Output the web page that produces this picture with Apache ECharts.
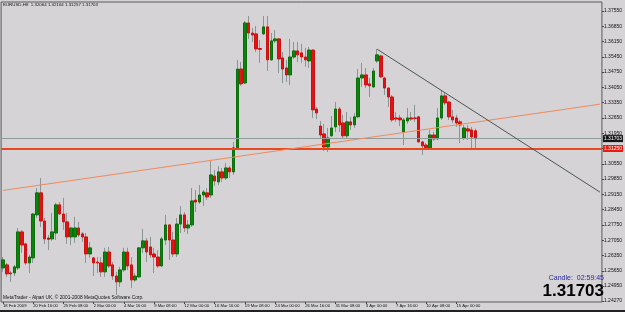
<!DOCTYPE html>
<html>
<head>
<meta charset="utf-8">
<script src="https://cdn.jsdelivr.net/npm/echarts@6/dist/echarts.min.js"></script>
<style>
  html, body { margin: 0; padding: 0; background: #d5d3d6; }
  #chart { width: 625px; height: 312px; }
</style>
</head>
<body>
<div id="chart"></div>
<script>
// EURUSD H8 bars, 18 Feb 2009 .. 16 Apr 2009
var openP = [
  1.2578,1.2592,1.2555,1.2555,1.2578,1.2743,1.2688,1.2601,1.2624,1.2821,
  1.2922,1.2793,1.2715,1.2711,1.2738,1.2867,1.2825,1.2789,1.2720,1.2720,
  1.2761,1.2734,1.2720,1.2642,1.2624,1.2605,1.2601,1.2560,1.2651,1.2592,
  1.2541,1.2514,1.2569,1.2651,1.2592,1.2523,1.2537,1.2670,1.2702,1.2674,
  1.2642,1.2628,1.2587,1.2706,1.2775,1.2706,1.2642,1.2779,1.2821,1.2761,
  1.2775,1.2889,1.2880,1.2912,1.2922,1.2912,1.2999,1.2972,1.3018,1.2990,
  1.3036,1.3018,1.3128,1.3489,1.3425,1.3700,1.3654,1.3650,1.3583,1.3650,
  1.3682,1.3531,1.3618,1.3627,1.3540,1.3494,1.3462,1.3544,1.3572,1.3563,
  1.3544,1.3526,1.3576,1.3306,1.3228,1.3192,1.3132,1.3183,1.3224,1.3306,
  1.3242,1.3183,1.3247,1.3233,1.3270,1.3448,1.3462,1.3421,1.3407,1.3526,
  1.3549,1.3448,1.3402,1.3361,1.3265,1.3265,1.3201,1.3251,1.3265,1.3265,
  1.3270,1.3155,1.3141,1.3128,1.3187,1.3169,1.3265,1.3366,1.3338,1.3270,
  1.3265,1.3247,1.3173,1.3215,1.3210,1.32064
];
var closeP = [
  1.2615,1.2551,1.2551,1.2583,1.2743,1.2683,1.2601,1.2628,1.2825,1.2922,
  1.2793,1.2711,1.2709,1.2743,1.2867,1.2825,1.2789,1.2720,1.2761,1.2761,
  1.2729,1.2720,1.2642,1.2670,1.2601,1.2601,1.2560,1.2651,1.2587,1.2541,
  1.2514,1.2569,1.2651,1.2587,1.2523,1.2541,1.2670,1.2702,1.2651,1.2638,
  1.2628,1.2587,1.2711,1.2775,1.2706,1.2642,1.2779,1.2821,1.2761,1.2775,
  1.2885,1.2880,1.2912,1.2926,1.2903,1.3004,1.2976,1.3018,1.2990,1.3036,
  1.3018,1.3128,1.3489,1.3421,1.3700,1.3654,1.3645,1.3581,1.3579,1.3682,
  1.3531,1.3618,1.3627,1.3535,1.3489,1.3462,1.3544,1.3572,1.3554,1.3544,
  1.3531,1.3576,1.3302,1.3288,1.3187,1.3132,1.3173,1.3219,1.3306,1.3233,
  1.3183,1.3247,1.3233,1.3270,1.3448,1.3462,1.3416,1.3412,1.3480,1.3554,
  1.3453,1.3402,1.3361,1.3256,1.3260,1.3256,1.3256,1.3265,1.3260,1.3263,
  1.3155,1.3137,1.3128,1.3187,1.3169,1.3265,1.3366,1.3334,1.3270,1.3256,
  1.3242,1.3233,1.3219,1.3205,1.3178,1.31703
];
var lowP = [
  1.2560,1.2537,1.2514,1.2541,1.2569,1.2647,1.2592,1.2555,1.2601,1.2807,
  1.2766,1.2688,1.2660,1.2702,1.2706,1.2821,1.2752,1.2688,1.2683,1.2693,
  1.2720,1.2697,1.2601,1.2624,1.2541,1.2555,1.2537,1.2537,1.2578,1.2523,
  1.2454,1.2491,1.2560,1.2569,1.2486,1.2514,1.2532,1.2647,1.2605,1.2624,
  1.2555,1.2578,1.2583,1.2683,1.2615,1.2628,1.2628,1.2738,1.2743,1.2734,
  1.2766,1.2834,1.2871,1.2862,1.2889,1.2899,1.2954,1.2958,1.2972,1.2981,
  1.2990,1.3004,1.3118,1.3412,1.3421,1.3627,1.3613,1.3567,1.3517,1.3645,
  1.3480,1.3526,1.3608,1.3471,1.3425,1.3430,1.3416,1.3535,1.3521,1.3517,
  1.3499,1.3494,1.3265,1.3260,1.3169,1.3114,1.3109,1.3178,1.3201,1.3201,
  1.3169,1.3173,1.3210,1.3219,1.3265,1.3407,1.3402,1.3361,1.3402,1.3517,
  1.3448,1.3370,1.3315,1.3247,1.3247,1.3228,1.3141,1.3238,1.3251,1.3247,
  1.3153,1.3096,1.3123,1.3118,1.3160,1.3164,1.3256,1.3324,1.3256,1.3242,
  1.3224,1.3150,1.3164,1.3164,1.3118,1.31257
];
var highP = [
  1.2628,1.2601,1.2564,1.2592,1.2761,1.2752,1.2693,1.2638,1.2830,1.2944,
  1.2990,1.2807,1.2729,1.2830,1.2876,1.2880,1.2899,1.2830,1.2766,1.2812,
  1.2789,1.2743,1.2738,1.2697,1.2628,1.2628,1.2628,1.2670,1.2674,1.2605,
  1.2560,1.2583,1.2670,1.2670,1.2628,1.2555,1.2674,1.2757,1.2715,1.2720,
  1.2670,1.2660,1.2720,1.2821,1.2779,1.2743,1.2807,1.2862,1.2834,1.2798,
  1.2944,1.2935,1.2958,1.2935,1.2944,1.3073,1.3027,1.3045,1.3036,1.3059,
  1.3045,1.3155,1.3531,1.3521,1.3709,1.3732,1.3677,1.3686,1.3622,1.3732,
  1.3732,1.3654,1.3668,1.3631,1.3567,1.3531,1.3627,1.3613,1.3613,1.3604,
  1.3586,1.3590,1.3578,1.3315,1.3251,1.3238,1.3219,1.3274,1.3338,1.3315,
  1.3279,1.3292,1.3270,1.3288,1.3489,1.3517,1.3494,1.3448,1.3494,1.3581,
  1.3554,1.3453,1.3405,1.3370,1.3292,1.3279,1.3265,1.3311,1.3292,1.3325,
  1.3274,1.3160,1.3150,1.3210,1.3201,1.3311,1.3393,1.3384,1.3343,1.3302,
  1.3279,1.3256,1.3233,1.3233,1.3224,1.32164
];

var tickLabels = ['18 Feb 2009','20 Feb 16:00','25 Feb 08:00','2 Mar 00:00','4 Mar 16:00',
  '9 Mar 08:00','12 Mar 00:00','16 Mar 16:00','19 Mar 08:00','24 Mar 00:00','26 Mar 16:00',
  '31 Mar 08:00','3 Apr 00:00','7 Apr 16:00','10 Apr 08:00','15 Apr 00:00'];
var priceTicks = [1.3755,1.3685,1.3615,1.3545,1.3475,1.3405,1.3335,1.3265,1.3195,1.3125,
  1.3055,1.2985,1.2915,1.2845,1.2775,1.2705,1.2635,1.2565,1.2495,1.2427];

// trend lines: [bar index, price]
var orangeTrend = [[0, 1.2933], [158, 1.3328]];
var greyTrend = [[99, 1.3580], [158, 1.2925]];
var bidPrice = 1.31703;
var supportPrice = 1.3125;

var slots = 159; // visible bar slots incl. empty space on the right
var cats = [];
for (var i = 0; i < slots; i++) {
  cats.push(i % 8 === 0 && tickLabels[i / 8] ? tickLabels[i / 8] : 'b' + i);
}
var fullData = openP.map(function (o, i) { return [o, closeP[i], lowP[i], highP[i]]; });
var bodyData = openP.map(function (o, i) {
  return [o, closeP[i], Math.min(o, closeP[i]), Math.max(o, closeP[i])];
});
var showTick = function (idx) { return idx % 8 === 0 && idx / 8 < tickLabels.length; };
var tiny = 'Liberation Sans';

var myChart = echarts.init(document.getElementById('chart'));
var option = {
  backgroundColor: '#d5d3d6',
  animation: false,
  grid: { left: 0, right: 20, top: 2, bottom: 10, show: true, borderColor: '#5a5a5a', borderWidth: 1 },
  xAxis: {
    type: 'category',
    data: cats,
    boundaryGap: true,
    axisLine: { show: false },
    axisTick: { show: true, interval: showTick, alignWithLabel: true, length: 2, lineStyle: { color: '#444' } },
    axisLabel: { interval: showTick, fontSize: 4.2, fontFamily: tiny, color: '#111', align: 'left', margin: 2 },
    splitLine: { show: false }
  },
  yAxis: {
    type: 'value',
    position: 'right',
    min: 1.2422,
    max: 1.3796,
    axisLine: { show: false },
    axisTick: { show: true, length: 2, customValues: priceTicks, lineStyle: { color: '#444' } },
    axisLabel: {
      customValues: priceTicks, fontSize: 5, fontFamily: tiny, color: '#111', margin: 2,
      formatter: function (v) { return v.toFixed(5); }
    },
    splitLine: { show: false }
  },
  series: [
    {
      type: 'candlestick',
      data: fullData,
      barWidth: 1,
      itemStyle: { color: '#8a9595', color0: '#8a9595', borderColor: '#8a9595', borderColor0: '#8a9595', borderWidth: 1 },
      silent: true
    },
    {
      type: 'candlestick',
      data: bodyData,
      barWidth: 3,
      itemStyle: { color: '#0c840c', color0: '#e41212', borderColor: '#0a6e0a', borderColor0: '#d01010', borderWidth: 1 },
      silent: true,
      markLine: {
        symbol: 'none',
        silent: true,
        animation: false,
        precision: 5,
        data: [
          {
            yAxis: bidPrice,
            lineStyle: { color: '#8e9c9a', width: 1, type: 'solid' },
            label: { show: true, position: 'end', distance: 1, formatter: bidPrice.toFixed(5),
              backgroundColor: '#151515', color: '#fff', fontSize: 5, fontFamily: tiny, padding: [1, 1] }
          },
          {
            yAxis: supportPrice,
            lineStyle: { color: '#e8481e', width: 2, type: 'solid' },
            label: { show: true, position: 'end', distance: 1, formatter: supportPrice.toFixed(5),
              backgroundColor: '#e81c10', color: '#fff', fontSize: 5, fontFamily: tiny, padding: [1, 1] }
          },
          [
            { coord: orangeTrend[0], lineStyle: { color: '#f08a5c', width: 1, type: 'solid' }, label: { show: false } },
            { coord: orangeTrend[1] }
          ],
          [
            { coord: greyTrend[0], lineStyle: { color: '#4a5656', width: 1, type: 'solid' }, label: { show: false } },
            { coord: greyTrend[1] }
          ]
        ]
      }
    }
  ],
  graphic: [
    { type: 'text', left: 3, top: 3, style: { text: 'EURUSD,H8  1.32064 1.32164 1.31257 1.31703', fontSize: 4.4, fontFamily: tiny, fill: '#111' } },
    { type: 'text', left: 3, top: 295, style: { text: 'MetaTrader - Alpari UK, \u00a9 2001-2008 MetaQuotes Software Corp.', fontSize: 4.8, fontFamily: tiny, fill: '#111' } },
    { type: 'text', right: 21, top: 275, style: { text: 'Candle:  02:59:45', fontSize: 7, fontFamily: tiny, fill: '#2a2aa0' } },
    { type: 'text', right: 21, top: 283, style: { text: '1.31703', fontSize: 17, fontWeight: 'bold', fontFamily: tiny, fill: '#000' } },
    { type: 'rect', left: 0, top: 310, shape: { width: 625, height: 2 }, style: { fill: '#222' } }
  ]
};
if (option && typeof option === "object") {
  myChart.setOption(option, true);
}
</script>
</body>
</html>
